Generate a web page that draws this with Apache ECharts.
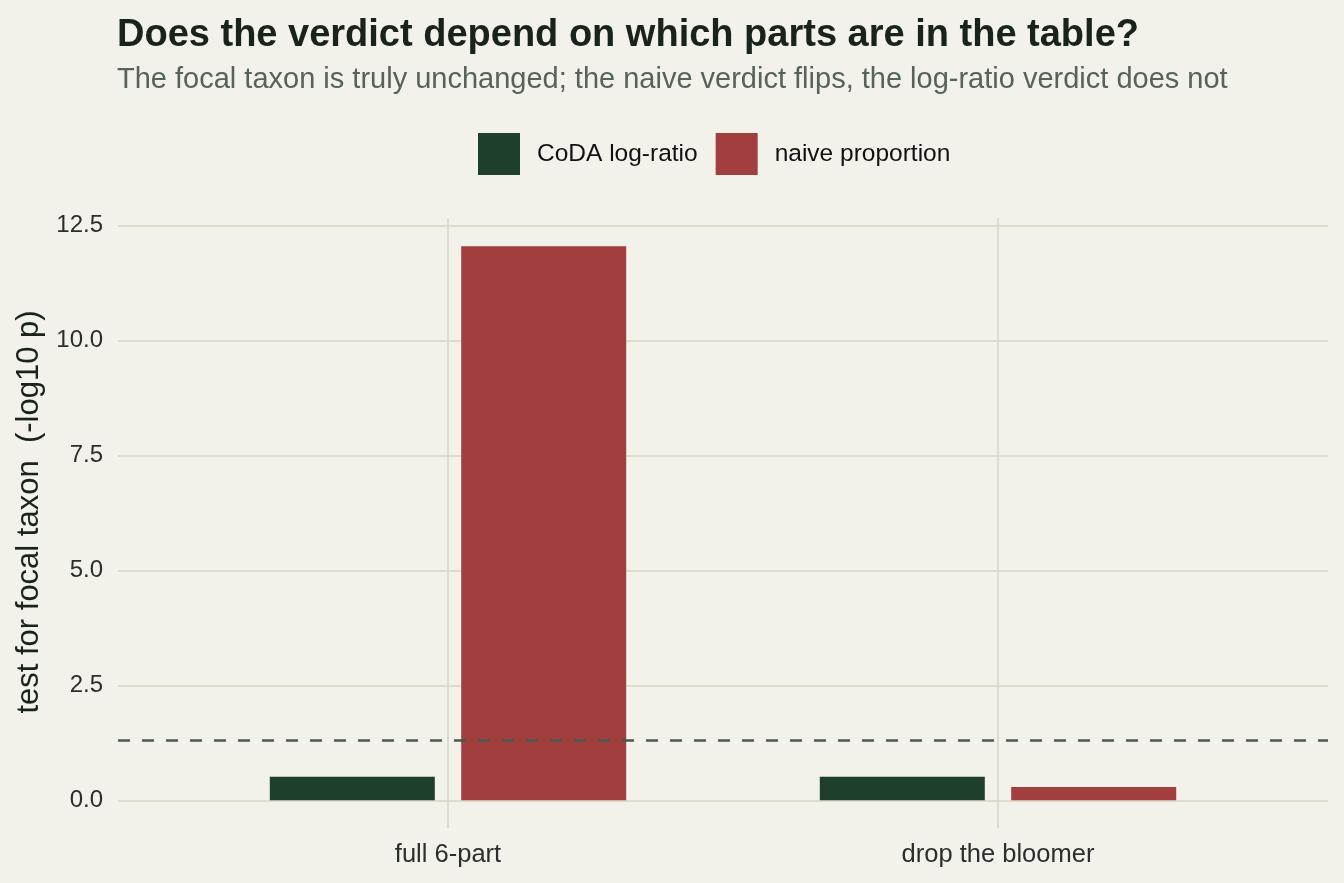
<html>
<head>
<meta charset="utf-8">
<script src="https://cdn.jsdelivr.net/npm/echarts@6/dist/echarts.min.js"></script>
<style>
  html, body { margin: 0; padding: 0; background: #f2f1ea; }
</style>
</head>
<body>
<div id="main" style="width: 1344px;height:883px;"></div>
<script type="text/javascript">
// data
var categories = ['full 6-part', 'drop the bloomer'];
var codaValues = [0.51, 0.51];
var naiveValues = [12.05, 0.29];
var yTicks = [0, 2.5, 5, 7.5, 10, 12.5];
var threshold = 1.301; // -log10(0.05)

var font = 'Liberation Sans, Arial, sans-serif';

function toPoints(vals) {
    return vals.map(function (v, i) { return [i + 1, v]; });
}

var myChart = echarts.init(document.getElementById('main'));

var option = {
    backgroundColor: '#f2f1ea',
    animation: false,
    title: {
        text: 'Does the verdict depend on which parts are in the table?',
        subtext: 'The focal taxon is truly unchanged; the naive verdict flips, the log-ratio verdict does not',
        left: 112,
        top: 12,
        itemGap: 10,
        textStyle: { fontFamily: font, fontSize: 38, fontWeight: 'bold', color: '#17231b' },
        subtextStyle: { fontFamily: font, fontSize: 29, color: '#56625a' }
    },
    legend: {
        top: 128,
        left: 473,
        itemWidth: 42,
        itemHeight: 42,
        itemGap: 18,
        icon: 'rect',
        textStyle: { fontFamily: font, fontSize: 24.5, color: '#111', padding: [0, 0, 0, 12] },
        data: ['CoDA log-ratio', 'naive proportion']
    },
    grid: { left: 118, right: 16, top: 218, bottom: 55 },
    xAxis: {
        type: 'value',
        min: 0.4,
        max: 2.6,
        axisLine: { show: false },
        axisTick: { show: false, customValues: [1, 2] },
        axisLabel: {
            customValues: [1, 2],
            margin: 14,
            fontFamily: font, fontSize: 25.5, color: '#2b2f2c',
            formatter: function (v) { return categories[Math.round(v) - 1] || ''; }
        },
        splitLine: { show: true, lineStyle: { color: '#d6d6c5', width: 1.5 } }
    },
    yAxis: {
        type: 'value',
        min: -0.603,
        max: 12.663,
        name: 'test for focal taxon  (-log10 p)',
        nameLocation: 'middle',
        nameGap: 71,
        nameTextStyle: { fontFamily: font, fontSize: 31, color: '#17231b', padding: [0, 0, 0, 22] },
        axisLine: { show: false },
        axisTick: { show: false, customValues: yTicks },
        axisLabel: {
            customValues: yTicks,
            margin: 15,
            fontFamily: font, fontSize: 24, color: '#2b2f2c',
            formatter: function (v) { return v.toFixed(1); }
        },
        splitLine: { show: true, lineStyle: { color: '#d6d6c5', width: 1.5 } }
    },
    series: [
        {
            name: 'CoDA log-ratio',
            type: 'bar',
            barWidth: 165,
            barGap: '16%',
            itemStyle: { color: '#1f3f2d' },
            data: toPoints(codaValues),
            markLine: {
                silent: true,
                symbol: 'none',
                label: { show: false },
                lineStyle: { color: '#4a5a50', type: [12, 12], width: 2.5 },
                data: [{ yAxis: threshold }]
            }
        },
        {
            name: 'naive proportion',
            type: 'bar',
            barWidth: 165,
            barGap: '16%',
            itemStyle: { color: '#a33e3e' },
            data: toPoints(naiveValues)
        }
    ]
};

myChart.setOption(option);
</script>
</body>
</html>
